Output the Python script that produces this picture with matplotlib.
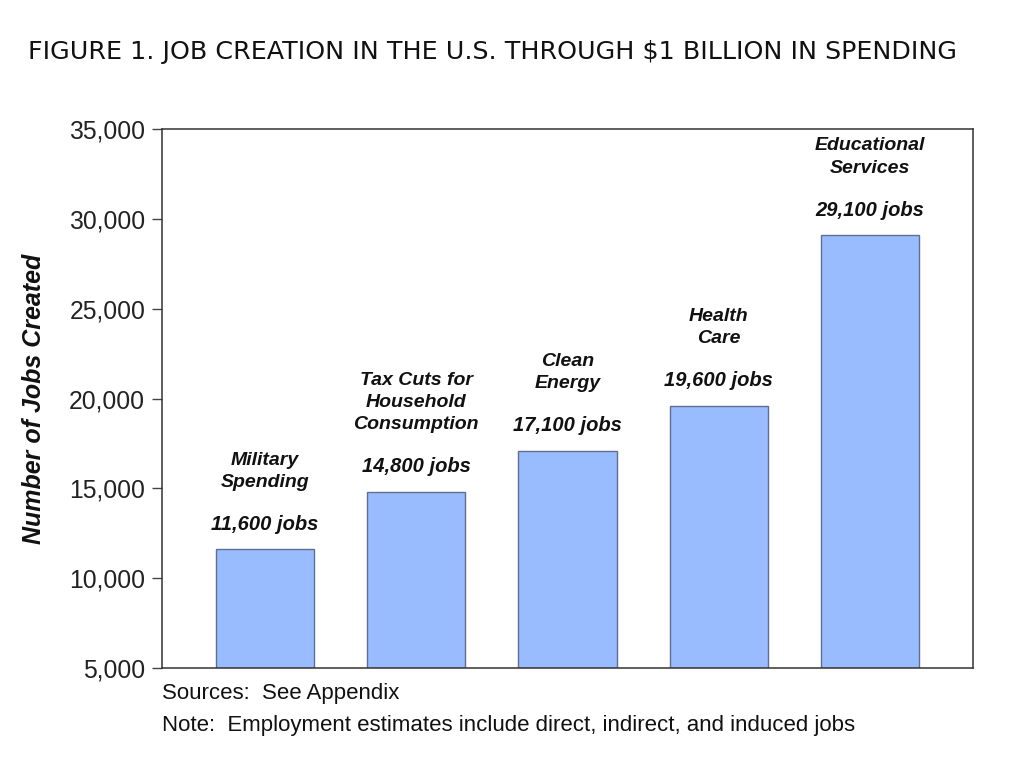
import matplotlib.pyplot as plt
from matplotlib.ticker import FuncFormatter

categories = ["Military\nSpending", "Tax Cuts for\nHousehold\nConsumption", "Clean\nEnergy",
              "Health\nCare", "Educational\nServices"]
jobs = [11600, 14800, 17100, 19600, 29100]
value_labels = ["11,600 jobs", "14,800 jobs", "17,100 jobs", "19,600 jobs", "29,100 jobs"]
yticks = [5000, 10000, 15000, 20000, 25000, 30000, 35000]

plt.rcParams["font.family"] = ["Liberation Sans", "DejaVu Sans"]

fig = plt.figure(figsize=(10.24, 7.63), dpi=100)
ax = fig.add_axes([0.158, 0.1245, 0.7923, 0.7064])

barColour = "#99bbff"
x = range(len(jobs))
ax.bar(x, [j - 5000 for j in jobs], bottom=5000, width=0.65, color=barColour,
       edgecolor="#5f6f8f", linewidth=1.0)

ax.set_xlim(-0.68, 4.68)
ax.set_ylim(5000, 35000)
ax.set_xticks([])
ax.set_yticks(yticks)
ax.yaxis.set_major_formatter(FuncFormatter(lambda v, p: f"{int(v):,}"))
ax.tick_params(axis="y", direction="out", length=7, width=1, color="#444444",
               labelsize=17.8, pad=5, labelcolor="#222222")
for s in ax.spines.values():
    s.set_color("#333333")
    s.set_linewidth(1.1)

for i, j in enumerate(jobs):
    ax.annotate(value_labels[i], (i, j), xytext=(0, 14), textcoords="offset points",
                ha="center", va="baseline", fontsize=14.5, fontweight="bold", style="italic",
                color="#111111")
    ax.annotate(categories[i], (i, j), xytext=(0, 45), textcoords="offset points",
                ha="center", va="baseline", fontsize=14, fontweight="bold", style="italic",
                linespacing=1.4, color="#111111")

ax.set_ylabel("Number of Jobs Created", fontsize=18, fontweight="bold", style="italic",
              color="#111111")
ax.yaxis.set_label_coords(-0.143, 0.5)

fig.text(0.027, 0.932, "FIGURE 1. JOB CREATION IN THE U.S. THROUGH $1 BILLION IN SPENDING",
         fontsize=18.3, family="DejaVu Sans", color="#111111", va="center")
fig.text(0.158, 0.091, "Sources:  See Appendix", fontsize=16, color="#111111", va="center")
fig.text(0.158, 0.049, "Note:  Employment estimates include direct, indirect, and induced jobs",
         fontsize=16, color="#111111", va="center")

plt.savefig("out.png", dpi=100)
